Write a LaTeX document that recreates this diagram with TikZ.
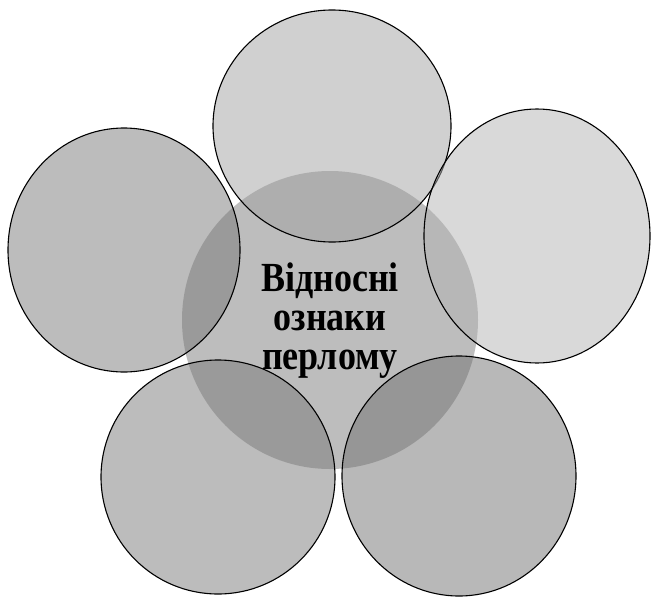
\documentclass[tikz,border=0pt]{standalone}
\usepackage{fontspec}
\usepackage{graphicx}
\setmainfont{Liberation Serif}
\definecolor{cgray}{RGB}{189,189,189}
\definecolor{ctop}{RGB}{161,161,161}
\definecolor{cleft}{RGB}{121,121,121}
\definecolor{cright}{RGB}{179,179,179}
\definecolor{cbl}{RGB}{121,121,121}
\definecolor{cbr}{RGB}{113,113,113}
\begin{document}
\begin{tikzpicture}[x=1pt,y=-1pt,
  petal/.style={draw=black,line width=1.1pt,fill opacity=0.5}]
\useasboundingbox (0,0) rectangle (653,597);
\fill[cgray] (330,320) ellipse [x radius=148, y radius=149];
\node[font=\bfseries\fontsize{36}{34}\selectfont,text=black,inner sep=0pt] (c) at (330,322)
  {\scalebox{1}[1.15]{\begin{tabular}{@{}c@{}}Відносні\\ознаки\\перлому\end{tabular}}};
\path[petal,fill=ctop] (332,126) ellipse [x radius=119, y radius=116];
\path[petal,fill=cleft] (124,250) ellipse [x radius=116, y radius=122];
\path[petal,fill=cright] (537,236) ellipse [x radius=113, y radius=127];
\path[petal,fill=cbl] (218,477) ellipse [x radius=117, y radius=117];
\path[petal,fill=cbr] (459,476) ellipse [x radius=117, y radius=120];
\end{tikzpicture}
\end{document}
